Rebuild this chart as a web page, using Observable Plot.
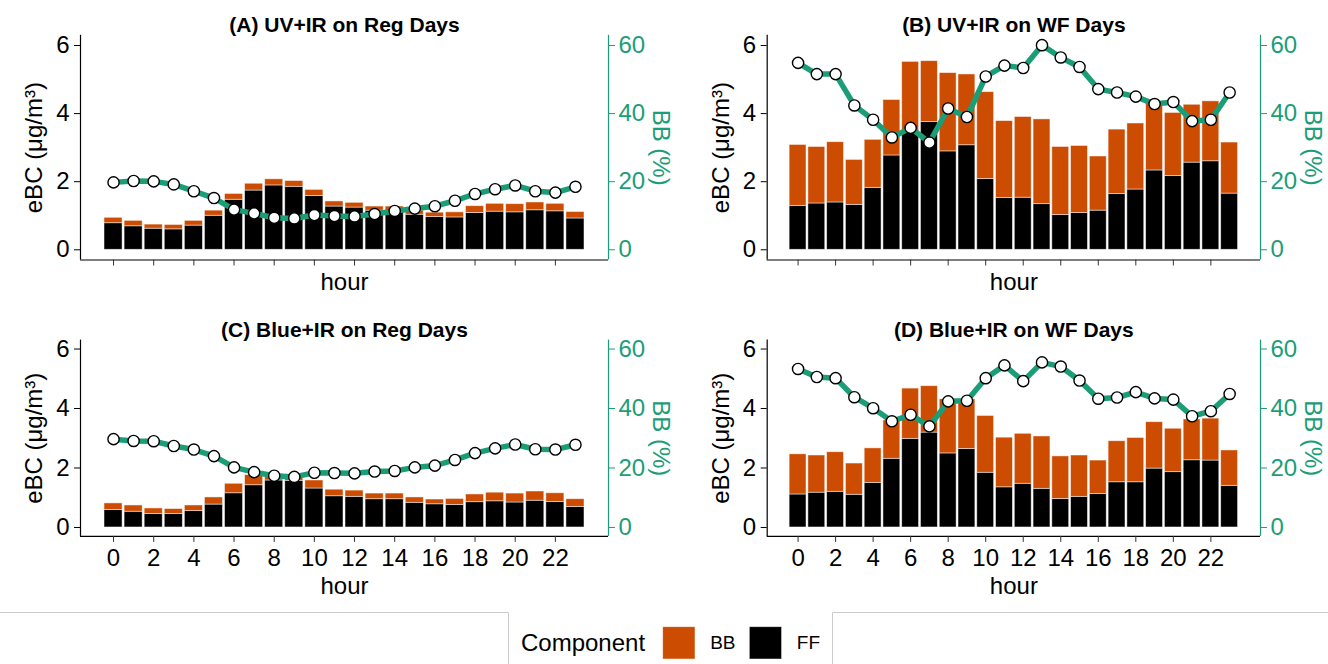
<!DOCTYPE html>
<html>
<head>
<meta charset="utf-8">
<script src="https://cdn.jsdelivr.net/npm/d3@7"></script>
<script src="https://cdn.jsdelivr.net/npm/@observablehq/plot@0.6"></script>
<style>
  html, body { margin: 0; padding: 0; background: #ffffff; }
  #fig { position: relative; width: 1328px; height: 664px; overflow: hidden; background: #ffffff;
         font-family: "Liberation Sans", Arial, Helvetica, sans-serif; }
  .cell { position: absolute; }
</style>
</head>
<body>
<div id="fig"></div>
<script>
// Hour of day and the axis ticks
const hours = [0, 1, 2, 3, 4, 5, 6, 7, 8, 9, 10, 11, 12, 13, 14, 15, 16, 17, 18, 19, 20, 21, 22, 23];
const hourTicks = [0, 2, 4, 6, 8, 10, 12, 14, 16, 18, 20, 22];
const eBCTicks = [0, 2, 4, 6];          // left axis, µg/m³
const pctPerUnit = 10;                  // right axis: BB % = eBC tick × 10

// Components of eBC (stacked bars) and their colours
const components = ["BB", "FF"];
const componentColors = ["#cc4c02", "#000000"];
const shareColor = "#1b9e77";

// (A) UV+IR on regular days
const ffUvReg  = [0.78, 0.69, 0.62, 0.60, 0.71, 1.00, 1.47, 1.74, 1.89, 1.85, 1.58, 1.27, 1.24, 1.15, 1.12, 1.03, 0.96, 0.95, 1.08, 1.12, 1.10, 1.16, 1.13, 0.92];
const bbUvReg  = [0.16, 0.16, 0.12, 0.13, 0.14, 0.15, 0.17, 0.20, 0.18, 0.17, 0.18, 0.15, 0.14, 0.12, 0.15, 0.12, 0.13, 0.15, 0.20, 0.23, 0.24, 0.23, 0.22, 0.19];
const pctUvReg = [19.8, 20.2, 20.1, 19.2, 17.2, 15.2, 11.8, 10.7, 9.4, 9.2, 10.2, 9.9, 9.8, 10.5, 11.4, 12.1, 12.8, 14.4, 16.4, 17.8, 18.9, 17.2, 16.8, 18.5];

// (B) UV+IR on wildfire days
const ffUvWf  = [1.29, 1.36, 1.39, 1.32, 1.82, 2.77, 3.45, 3.75, 2.89, 3.07, 2.08, 1.52, 1.53, 1.34, 1.02, 1.08, 1.15, 1.64, 1.77, 2.33, 2.17, 2.56, 2.60, 1.65];
const bbUvWf  = [1.79, 1.66, 1.77, 1.32, 1.41, 1.63, 2.07, 1.79, 2.30, 2.08, 2.55, 2.26, 2.37, 2.49, 2.00, 1.97, 1.59, 1.89, 1.94, 1.97, 1.85, 1.70, 1.76, 1.50];
const pctUvWf = [54.9, 51.6, 51.6, 42.4, 38.2, 33.0, 35.8, 31.5, 41.5, 39.0, 50.9, 54.1, 53.4, 60.1, 56.5, 53.7, 47.2, 46.2, 45.0, 42.8, 43.4, 37.8, 38.2, 46.2];

// (C) Blue+IR on regular days
const ffBlueReg  = [0.59, 0.53, 0.45, 0.45, 0.55, 0.77, 1.15, 1.42, 1.58, 1.57, 1.31, 1.05, 1.03, 0.95, 0.95, 0.83, 0.78, 0.76, 0.85, 0.88, 0.84, 0.90, 0.86, 0.69];
const bbBlueReg  = [0.22, 0.21, 0.19, 0.17, 0.19, 0.24, 0.32, 0.34, 0.22, 0.19, 0.27, 0.22, 0.21, 0.19, 0.19, 0.18, 0.16, 0.20, 0.26, 0.29, 0.30, 0.31, 0.29, 0.26];
const pctBlueReg = [29.7, 29.1, 29.0, 27.4, 26.2, 24.0, 20.2, 18.6, 17.4, 17.0, 18.4, 18.3, 18.2, 18.8, 19.0, 20.2, 20.8, 22.7, 25.0, 26.6, 27.9, 26.3, 26.2, 27.8];

// (D) Blue+IR on wildfire days
const ffBlueWf  = [1.11, 1.17, 1.20, 1.10, 1.50, 2.31, 2.98, 3.19, 2.49, 2.64, 1.84, 1.35, 1.47, 1.30, 0.96, 1.03, 1.13, 1.52, 1.52, 1.98, 1.86, 2.26, 2.25, 1.40];
const bbBlueWf  = [1.35, 1.25, 1.33, 1.05, 1.16, 1.29, 1.69, 1.56, 1.82, 1.67, 1.91, 1.67, 1.68, 1.76, 1.43, 1.39, 1.12, 1.38, 1.49, 1.56, 1.46, 1.37, 1.41, 1.19];
const pctBlueWf = [53.3, 50.6, 50.2, 43.8, 40.1, 35.7, 37.9, 34.0, 42.4, 42.6, 50.2, 54.5, 49.2, 55.5, 54.1, 49.4, 43.3, 43.7, 45.5, 43.4, 43.0, 37.4, 39.1, 44.9];

const panelTitles = ["(A) UV+IR on Reg Days", "(B) UV+IR on WF Days", "(C) Blue+IR on Reg Days", "(D) Blue+IR on WF Days"];
const yLabel = "eBC (\u03bcg/m\u00b3)";
const yLabelRight = "BB (%)";
const xLabel = "hour";

const fontFamily = "'Liberation Sans', Arial, Helvetica, sans-serif";
const barHalf = 0.45;

// Expand a [lo, hi] extent by 5% on each side
function expand([lo, hi]) {
  const pad = (hi - lo) * 0.05;
  return [lo - pad, hi + pad];
}

function drawPanel(cfg) {
  const rows = [];
  hours.forEach((h, i) => {
    rows.push({hour: h, component: "FF", lo: 0, hi: cfg.ff[i]});
    rows.push({hour: h, component: "BB", lo: cfg.ff[i], hi: cfg.ff[i] + cfg.bb[i]});
  });
  const share = hours.map((h, i) => ({hour: h, pct: cfg.pct[i]}));
  const xDomain = expand([hours[0] - barHalf, hours[hours.length - 1] + barHalf]);
  const yDomain = expand([eBCTicks[0], eBCTicks[eBCTicks.length - 1]]);
  const yShare = d => d.pct / pctPerUnit;
  const label = {text: d => d, textAnchor: "middle", lineAnchor: "middle", fontSize: 24};

  return Plot.plot({
    width: cfg.width,
    height: cfg.height,
    marginLeft: cfg.marginLeft,
    marginRight: cfg.marginRight,
    marginTop: cfg.marginTop,
    marginBottom: cfg.marginBottom,
    x: {domain: xDomain},
    y: {domain: yDomain},
    color: {domain: components, range: componentColors},
    style: {fontFamily, background: "transparent", color: "black", overflow: "visible"},
    marks: [
      Plot.rectY(rows, {
        x1: d => d.hour - barHalf, x2: d => d.hour + barHalf,
        y1: "lo", y2: "hi", fill: "component",
        stroke: "white", strokeOpacity: 0.6, strokeWidth: 0.8
      }),
      Plot.line(share, {x: "hour", y: yShare, stroke: shareColor, strokeWidth: 5.5}),
      Plot.dot(share, {x: "hour", y: yShare, r: 5.6, fill: "white", stroke: "black", strokeWidth: 1.4}),
      Plot.ruleX([xDomain[0]], {stroke: "black", strokeWidth: 1.2}),
      Plot.ruleX([xDomain[1]], {stroke: shareColor, strokeWidth: 1.2}),
      Plot.ruleY([yDomain[0]], {stroke: "black", strokeWidth: 1.2}),
      Plot.axisY({ticks: eBCTicks, tickFormat: d => String(d), tickSize: 6, tickPadding: 5,
                  fontSize: 24, label: null, color: "black"}),
      Plot.axisY({anchor: "right", ticks: eBCTicks, tickFormat: d => String(d * pctPerUnit),
                  tickSize: 6, tickPadding: 4, fontSize: 24, label: null, color: shareColor}),
      Plot.axisX({ticks: hourTicks, tickSize: 6, tickPadding: 7, fontSize: 24, label: null,
                  stroke: "#333333", fill: "black",
                  tickFormat: cfg.hourLabels ? d => String(d) : () => ""}),
      Plot.text([yLabel], {...label, frameAnchor: "left", dx: -46, rotate: -90, fill: "black"}),
      Plot.text([yLabelRight], {...label, frameAnchor: "right", dx: 52, rotate: 90, fill: shareColor}),
      Plot.text([xLabel], {...label, frameAnchor: "bottom", dy: cfg.xLabelDy, fill: "black"}),
      Plot.text([cfg.title], {...label, frameAnchor: "top", dy: -10, fontSize: 21, fontWeight: "bold", fill: "black"})
    ]
  });
}

const fig = document.getElementById("fig");
const colW = 664, rowH = 306;
const layout = [
  {title: panelTitles[0], ff: ffUvReg,   bb: bbUvReg,   pct: pctUvReg,   col: 0, row: 0},
  {title: panelTitles[1], ff: ffUvWf,    bb: bbUvWf,    pct: pctUvWf,    col: 1, row: 0},
  {title: panelTitles[2], ff: ffBlueReg, bb: bbBlueReg, pct: pctBlueReg, col: 0, row: 1},
  {title: panelTitles[3], ff: ffBlueWf,  bb: bbBlueWf,  pct: pctBlueWf,  col: 1, row: 1}
];

layout.forEach(p => {
  const isTop = p.row === 0;
  const isLeft = p.col === 0;
  const svg = drawPanel({
    ...p,
    width: colW,
    height: rowH,
    marginLeft: isLeft ? 80 : 102.7,
    marginRight: isLeft ? 56 : 68,
    marginTop: isTop ? 34.8 : 33.6,
    marginBottom: isTop ? 46.5 : 76.1,
    hourLabels: !isTop,
    xLabelDy: isTop ? 22.5 : 50
  });
  const cell = document.createElement("div");
  cell.className = "cell";
  cell.style.left = (p.col * colW) + "px";
  cell.style.top = (p.row * rowH) + "px";
  cell.appendChild(svg);
  fig.appendChild(cell);
});

// Legend strip below the panels
const legendTop = 2 * rowH;
const legend = d3.create("svg")
  .attr("width", 1328).attr("height", 664 - legendTop)
  .style("position", "absolute").style("left", "0px").style("top", legendTop + "px")
  .style("font-family", fontFamily);
legend.append("path")
  .attr("d", "M0,0.5H508.5V60M832.5,60V0.5H1328")
  .attr("fill", "none").attr("stroke", "#cccccc").attr("stroke-width", 1);
legend.append("text")
  .attr("x", 521).attr("y", 38.5).attr("font-size", 24).attr("fill", "black")
  .text("Component");
components.forEach((c, i) => {
  const x0 = 662.7 + i * 86.6;
  legend.append("rect")
    .attr("x", x0).attr("y", 14.7).attr("width", 32.3).attr("height", 32.3)
    .attr("fill", componentColors[i]).attr("stroke", "white").attr("stroke-opacity", 0.6).attr("stroke-width", 0.8);
  legend.append("text")
    .attr("x", x0 + 47.5).attr("y", 37).attr("font-size", 19).attr("fill", "black")
    .text(c);
});
fig.appendChild(legend.node());
</script>
</body>
</html>
